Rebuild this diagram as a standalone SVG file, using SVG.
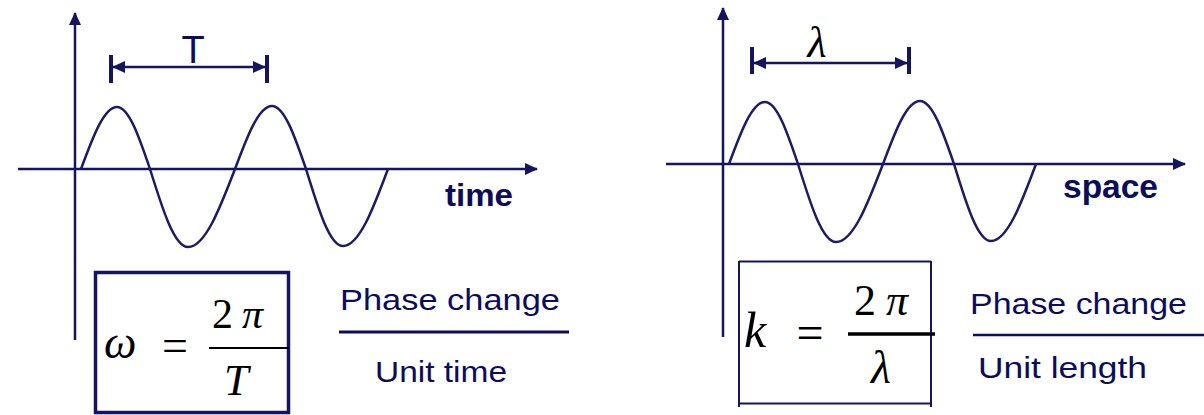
<svg xmlns="http://www.w3.org/2000/svg" width="1204" height="415" viewBox="0 0 1204 415">
<style>
.ax{stroke:#14145f;stroke-width:2.5;fill:none}
.wave{stroke:#1b1b66;stroke-width:2.5;fill:none}
.tick{stroke:#14145f;stroke-width:4}
.lbl{font-family:"Liberation Sans",Arial,sans-serif;fill:#0c0c5c}
.axl{font-family:"Liberation Sans",Arial,sans-serif;font-weight:bold;fill:#0c0c5c}
.m{font-family:"Liberation Serif","Times New Roman",serif;fill:#000}
.mi{font-family:"Liberation Serif","Times New Roman",serif;font-style:italic;fill:#000}
.bar{stroke:#0c0c5c;stroke-width:3}
</style>
<defs>
<marker id="ah" viewBox="0 0 13 12" refX="12" refY="6" markerUnits="userSpaceOnUse" markerWidth="13" markerHeight="12" orient="auto-start-reverse">
<path d="M0,0 L13,6 L0,12 z" fill="#14145f"/>
</marker>
<path id="sine" d="M81,169 C92.7,137.3 104,107 117,107 C128.9,107 139.2,137.3 150,169 C162.4,208.9 174.3,247 188,247 C205,247 219.7,208.9 235,169 C247.1,136.7 258.6,106 272,106 C284.3,106 294.9,136.7 306,169 C318.1,208.4 329.6,246 343,246 C359.2,246 373.3,208.4 388,169"/>
</defs>

<g id="connectors">
<line class="ax" x1="75" y1="340" x2="75" y2="13" marker-end="url(#ah)"/>
<line class="ax" x1="18" y1="169" x2="537" y2="169" marker-end="url(#ah)"/>
<line class="ax" x1="113" y1="67" x2="265" y2="67" marker-start="url(#ah)" marker-end="url(#ah)"/>
<line class="tick" x1="111" y1="55" x2="111" y2="83"/>
<line class="tick" x1="267" y1="55" x2="267" y2="83"/>

<line class="ax" x1="723" y1="337" x2="723" y2="8" marker-end="url(#ah)"/>
<line class="ax" x1="666" y1="164" x2="1185" y2="164" marker-end="url(#ah)"/>
<line class="ax" x1="754" y1="63" x2="907" y2="63" marker-start="url(#ah)" marker-end="url(#ah)"/>
<line class="tick" x1="752" y1="47" x2="752" y2="74"/>
<line class="tick" x1="909" y1="47" x2="909" y2="74"/>
</g>

<g id="wave-time">
<use href="#sine" class="wave"/>
<text class="lbl" x="193" y="63" font-size="38" text-anchor="middle">T</text>
<text class="axl" x="445" y="206" font-size="32" textLength="68" lengthAdjust="spacingAndGlyphs">time</text>
</g>

<g id="wave-space">
<use href="#sine" class="wave" transform="translate(648,-5)"/>
<text class="mi" x="817" y="57" font-size="44" text-anchor="middle">λ</text>
<text class="axl" x="1063" y="198" font-size="33" textLength="95" lengthAdjust="spacingAndGlyphs">space</text>
</g>

<g id="omega-box">
<rect x="95.5" y="272.5" width="193" height="140" fill="none" stroke="#14145f" stroke-width="3.5"/>
<text class="mi" x="104" y="358" font-size="46">ω</text>
<text class="m" x="175" y="361" font-size="46" text-anchor="middle">=</text>
<text class="m" x="212" y="328" font-size="42">2</text>
<text class="mi" x="242" y="328" font-size="42">π</text>
<line x1="209" y1="348" x2="289" y2="348" stroke="#000" stroke-width="2"/>
<text class="mi" x="224" y="395" font-size="44">T</text>
</g>

<g id="omega-def">
<text class="lbl" x="340" y="310" font-size="30" textLength="220" lengthAdjust="spacingAndGlyphs">Phase change</text>
<line class="bar" x1="339" y1="332" x2="569" y2="332"/>
<text class="lbl" x="375" y="382" font-size="29" textLength="132" lengthAdjust="spacingAndGlyphs">Unit time</text>
</g>

<g id="k-box">
<line x1="739" y1="261" x2="739" y2="407" stroke="#14145f" stroke-width="2"/>
<line x1="931" y1="261" x2="931" y2="407" stroke="#14145f" stroke-width="2"/>
<line x1="739" y1="261.5" x2="931" y2="261.5" stroke="#14145f" stroke-width="2"/>
<line x1="739" y1="403.5" x2="931" y2="403.5" stroke="#14145f" stroke-width="2"/>
<text class="mi" x="744" y="347" font-size="50">k</text>
<text class="m" x="810" y="349" font-size="48" text-anchor="middle">=</text>
<text class="m" x="854" y="315" font-size="44">2</text>
<text class="mi" x="886" y="315" font-size="44">π</text>
<line x1="848" y1="334" x2="935" y2="334" stroke="#000" stroke-width="3.5"/>
<text class="mi" x="871" y="383" font-size="46">λ</text>
</g>

<g id="k-def">
<text class="lbl" x="970" y="314" font-size="30" textLength="217" lengthAdjust="spacingAndGlyphs">Phase change</text>
<line class="bar" x1="973" y1="335" x2="1204" y2="335" style="stroke-width:2.5"/>
<text class="lbl" x="978" y="378" font-size="29" textLength="169" lengthAdjust="spacingAndGlyphs">Unit length</text>
</g>
</svg>
